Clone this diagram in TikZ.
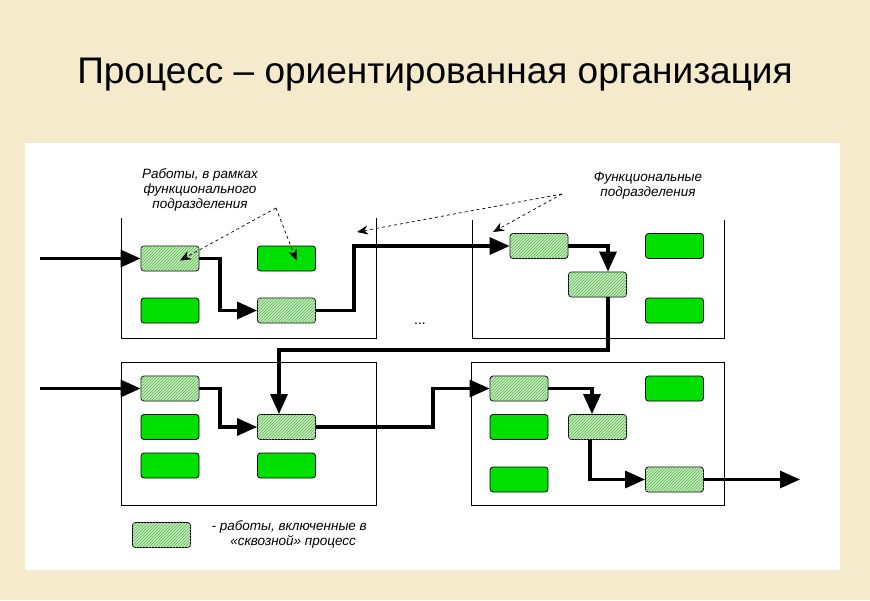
\documentclass[tikz,border=0pt]{standalone}
\usepackage{fontspec}
\setmainfont{Liberation Sans}
\usetikzlibrary{arrows.meta,patterns}
\definecolor{bg}{HTML}{F5EACB}
\definecolor{gr}{HTML}{00E000}
\definecolor{lg}{HTML}{C4ECBC}
\definecolor{hc}{HTML}{5CB854}
\begin{document}
\begin{tikzpicture}[x=1pt,y=-1pt,
  box/.style={draw=black,line width=0.8pt,rounded corners=3pt,minimum width=58pt,minimum height=25pt,inner sep=0pt},
  act/.style={box,fill=gr},
  hat/.style={box,fill=lg,postaction={pattern=north east lines,pattern color=hc}},
  flow/.style={line width=3.2pt,-{Triangle[length=20pt,width=17pt]}},
  dept/.style={line width=1pt},
  note/.style={font=\itshape\fontsize{13.5}{15}\selectfont,align=center},
  dsh/.style={dashed,line width=0.7pt,-{Stealth[length=11pt,width=9pt]}}]
\useasboundingbox (0,0) rectangle (870,600);
\fill[bg] (0,0) rectangle (870,600);
\fill[white] (25,143) rectangle (840,570);
\node (title) at (435,75) {\fontsize{37}{40}\selectfont Процесс – ориентированная организация};
% departments
\draw[dept] (121,218) -- (121,338) -- (376,338) -- (376,218);
\draw[dept] (472,220) -- (472,338) -- (724,338) -- (724,220);
\draw[dept] (121,362) rectangle (376,505);
\draw[dept] (471,362) rectangle (724,505);
% activities
\node[hat] (A1) at (170,258.5) {};
\node[act] (A2) at (286.5,258.5) {};
\node[act] (A3) at (170,310.5) {};
\node[hat] (A4) at (286.5,310.5) {};
\node[hat] (B1) at (539,246) {};
\node[act] (B2) at (674.5,246) {};
\node[hat] (B3) at (597.5,284.5) {};
\node[act] (B4) at (674.5,310.5) {};
\node[hat] (C1) at (170,388.5) {};
\node[act] (C2) at (170,427) {};
\node[act] (C3) at (170,465.5) {};
\node[hat] (C4) at (286.5,427) {};
\node[act] (C5) at (286.5,465.5) {};
\node[hat] (D1) at (519,388.5) {};
\node[act] (D2) at (674.5,388.5) {};
\node[act] (D3) at (519,427) {};
\node[hat] (D4) at (597.5,427) {};
\node[act] (D5) at (519,479.5) {};
\node[hat] (D6) at (674.5,479.5) {};
\node[hat] (L) at (161.5,535) {};
\node[note,anchor=west] (Lt) at (208,534) {- работы, включенные в\\\hspace*{8pt}«сквозной» процесс};
% inputs/outputs
\coordinate (in1) at (40,258.5);
\coordinate (in2) at (40,388.5);
\coordinate (out) at (800,479.5);
\draw[flow] (in1) -- (A1.west);
\draw[flow] (in2) -- (C1.west);
\draw[flow] (A1.east) -| (220,310.5) -- (A4.west);
\draw[flow] (A4.east) -| (354,246) -- (B1.west);
\draw[flow] (B1.east) -| ([xshift=10.5pt]B3.north);
\draw[flow] ([xshift=10.5pt]B3.south) -- (608,350) -| ([xshift=-7.5pt]C4.north);
\draw[flow] (C1.east) -| (220,427) -- (C4.west);
\draw[flow] (C4.east) -| (433,388.5) -- (D1.west);
\draw[flow] (D1.east) -| ([xshift=-5.5pt]D4.north);
\draw[flow] ([xshift=-7.5pt]D4.south) |- (D6.west);
\draw[flow] (D6.east) -- (out);
\node[font=\fontsize{14}{14}\selectfont] (dots) at (420,324) {...};
% notes
\node[note] (n1) at (200,190) {Работы, в рамках\\функционального\\подразделения};
\node[note] (n2) at (648,186) {Функциональные\\подразделения};
\coordinate (p1) at (276,208);
\coordinate (p2) at (562,194);
\draw[dsh] (p1) -- ([xshift=10pt,yshift=-2pt]A1.center);
\draw[dsh] (p1) -- ([xshift=10pt,yshift=-2pt]A2.center);
\draw[dsh] (p2) -- (357,232);
\draw[dsh] (p2) -- (493,232);
\end{tikzpicture}
\end{document}
